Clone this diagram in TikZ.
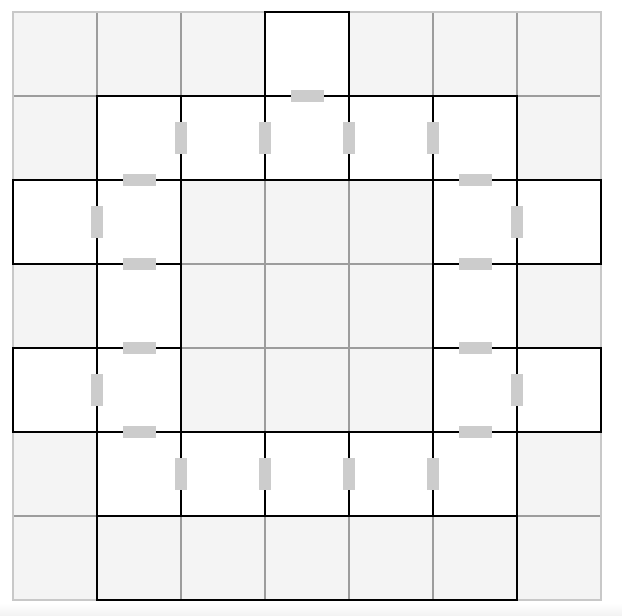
\documentclass[tikz,border=0pt]{standalone}
\usepackage{tikz}
\definecolor{cellgray}{HTML}{F4F4F4}
\definecolor{linegray}{HTML}{9C9C9C}
\definecolor{rimgray}{HTML}{C8C8C8}
\definecolor{doorgray}{HTML}{CCCCCC}

\begin{document}
\begin{tikzpicture}[x=1pt, y=-1pt,
		wall/.style={draw=black, line width=2pt},   %Raumgrenzen
		gridline/.style={draw=linegray, line width=1.4pt},
		hdoor/.style={rectangle, fill=doorgray, inner sep=0pt, minimum width=33pt, minimum height=12pt},
		vdoor/.style={rectangle, fill=doorgray, inner sep=0pt, minimum width=12pt, minimum height=32pt}]
		%Bildbereich
		\useasboundingbox (0,0) rectangle (622,616);
		\shade[top color=white, bottom color=black!5] (0,603) rectangle (622,616);
		\begin{scope}[shift={(13,12)}, x=84pt, y=-84pt]
		%Raster zeichnen
		\fill[cellgray] (0,0) rectangle (7,7);
		\foreach \k in {1,...,6} {
			\draw[gridline] (\k,0) -- (\k,7);
			\draw[gridline] (0,\k) -- (7,\k);
		}
		\draw[rimgray, line width=2pt] (0,0) rectangle (7,7);
		% Raeume
		\foreach \c/\r in {3/0, 1/1, 2/1, 3/1, 4/1, 5/1, 0/2, 1/2, 5/2, 6/2, 1/3, 5/3,
			0/4, 1/4, 5/4, 6/4, 1/5, 2/5, 3/5, 4/5, 5/5}
			\fill[white] (\c,\r) rectangle ++(1,1);
		\foreach \c/\r in {3/0, 1/1, 2/1, 3/1, 4/1, 5/1, 0/2, 1/2, 5/2, 6/2, 1/3, 5/3,
			0/4, 1/4, 5/4, 6/4, 1/5, 2/5, 3/5, 4/5, 5/5}
			\draw[wall] (\c,\r) rectangle ++(1,1);
		\draw[wall] (1,6) rectangle (6,7);
		% Tueren
		\foreach \x/\y [count=\i] in {3.5/1, 1.5/2, 5.5/2, 1.5/3, 5.5/3, 1.5/4, 5.5/4, 1.5/5, 5.5/5}
			\node[hdoor] (h\i) at (\x,\y) {};
		\foreach \x/\y [count=\i] in {2/1.5, 3/1.5, 4/1.5, 5/1.5, 1/2.5, 6/2.5, 1/4.5, 6/4.5,
			2/5.5, 3/5.5, 4/5.5, 5/5.5}
			\node[vdoor] (v\i) at (\x,\y) {};
		\end{scope}
	\end{tikzpicture}
\end{document}
